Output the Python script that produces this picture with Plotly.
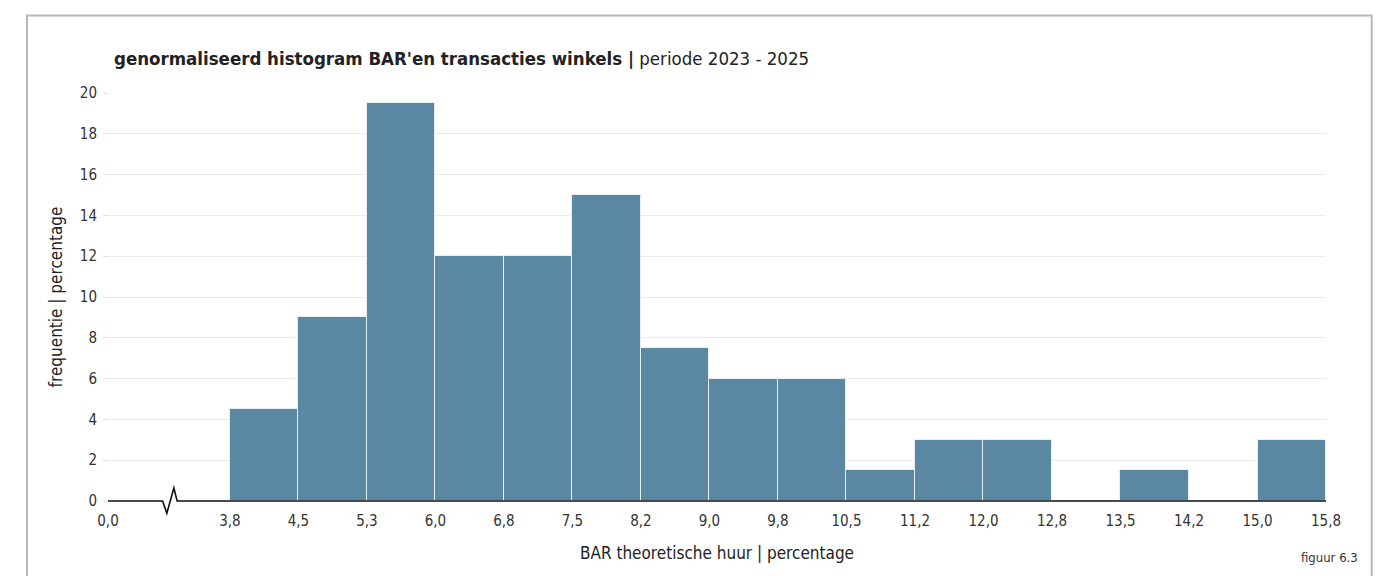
import plotly.graph_objects as go

# Bin edges (BAR theoretische huur, %) and normalised frequency per bin (%)
edge_labels = ["3,8", "4,5", "5,3", "6,0", "6,8", "7,5", "8,2", "9,0", "9,8",
               "10,5", "11,2", "12,0", "12,8", "13,5", "14,2", "15,0", "15,8"]
frequencies = [4.5, 9, 19.5, 12, 12, 15, 7.5, 6, 6, 1.5, 3, 3, 0, 1.5, 0, 3]
origin_label = "0,0"

y_ticks = list(range(0, 21, 2))

# Axis is drawn in bin units; the origin sits before a broken axis segment
origin_pos = -1.78
break_pos = -0.88
x_max = len(frequencies)

centers = [i + 0.5 for i in range(len(frequencies))]
tick_vals = [origin_pos] + list(range(len(edge_labels)))
tick_text = [origin_label] + edge_labels

FONT = "Liberation Sans Narrow, DejaVu Sans Condensed, Open Sans, sans-serif"
BAR_COLOR = "#5a87a1"

fig = go.Figure()
fig.add_trace(go.Bar(
    x=centers, y=frequencies, width=1.0,
    marker=dict(color=BAR_COLOR, line=dict(color="#e9eff3", width=1), cornerradius=2),
    hovertemplate="%{y}%<extra></extra>",
))


def to_paper(x):
    return (x - origin_pos) / (x_max - origin_pos)


# x-axis baseline with a zigzag marking the axis break (paper coords, not clipped)
bx = to_paper(break_pos)
dx = 0.0029
zig = [(0, 0), (bx - 2 * dx, 0), (bx - 0.8 * dx, -0.03), (bx + 1.2 * dx, 0.032),
       (bx + 2.1 * dx, 0), (1, 0)]
path = "M " + " L ".join(f"{px:.5f},{py:.5f}" for px, py in zig)

fig.update_layout(
    width=1383, height=576, autosize=False,
    margin=dict(l=108, r=57, t=93, b=75),
    paper_bgcolor="white", plot_bgcolor="white",
    showlegend=False, bargap=0,
    font=dict(family=FONT, color="#333333", size=14),
    xaxis=dict(
        range=[origin_pos, x_max],
        tickvals=tick_vals, ticktext=tick_text,
        showgrid=False, zeroline=False, showline=False,
        ticks="", ticklabelstandoff=9, tickfont=dict(size=15, color="#333333"),
        title=dict(text="BAR theoretische huur | percentage",
                   font=dict(size=17, color="#222222"), standoff=18),
    ),
    yaxis=dict(
        range=[0, 20], tickvals=y_ticks,
        showgrid=True, gridcolor="#ececec", gridwidth=1,
        zeroline=False, showline=False,
        ticks="outside", ticklen=4, tickcolor="#dddddd",
        ticklabelstandoff=3,
        tickfont=dict(size=15, color="#333333"),
        title=dict(text="frequentie | percentage",
                   font=dict(size=17, color="#222222"), standoff=12),
    ),
    annotations=[
        dict(text="<b>genormaliseerd histogram BAR'en transacties winkels |</b> periode 2023 - 2025",
             xref="paper", yref="paper", x=0.003, y=1.084, xanchor="left", yanchor="middle",
             showarrow=False, font=dict(size=18.5, color="#222222")),
        dict(text="figuur 6.3", xref="paper", yref="paper", x=1.028, y=-0.138,
             xanchor="right", yanchor="middle", showarrow=False,
             font=dict(size=13, color="#333333")),
    ],
    shapes=[
        dict(type="rect", xref="paper", yref="paper",
             x0=-0.0665, x1=1.0375, y0=-0.5, y1=1.19,
             line=dict(color="#b8b8b8", width=2), fillcolor="rgba(0,0,0,0)", layer="below"),
        dict(type="path", xref="paper", yref="paper", path=path,
             line=dict(color="#111111", width=1.6), layer="above"),
    ],
)

fig.write_html("out.html")
